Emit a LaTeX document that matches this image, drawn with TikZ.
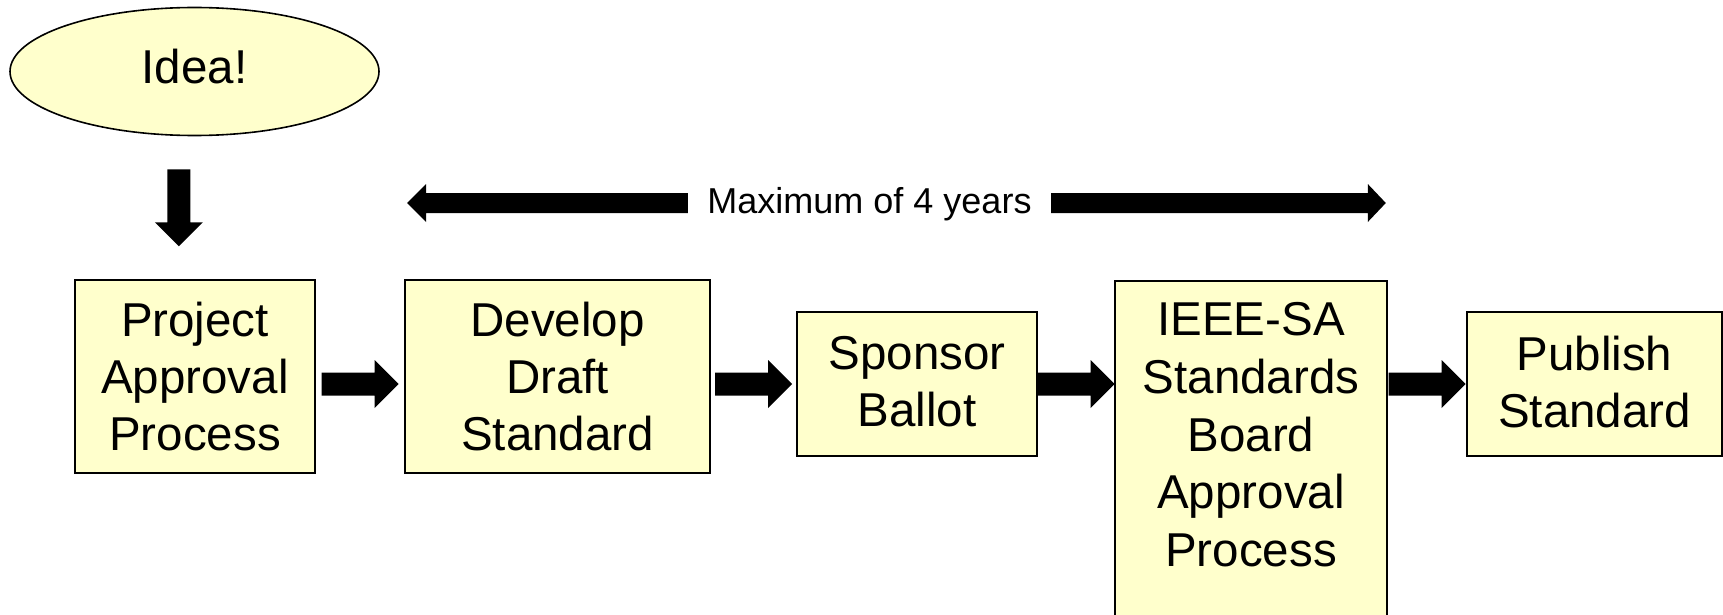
\documentclass[tikz,border=0pt]{standalone}
\usepackage{fontspec}
\setmainfont{Liberation Sans}
\usetikzlibrary{calc,shapes.geometric}
\definecolor{boxfill}{HTML}{FFFFCC}
\begin{document}
\begin{tikzpicture}[x=1pt,y=-1pt,
  box/.style={draw=black, line width=1.6pt, fill=boxfill, align=center, inner sep=0pt,
    font=\fontsize{47.5}{57}\selectfont},
  blockarrow/.pic={\fill[black] (-38.5,-11.5) -- (14.5,-11.5) -- (14.5,-24) -- (38.5,0)
    -- (14.5,24) -- (14.5,11.5) -- (-38.5,11.5) -- cycle;}
]
\useasboundingbox (0,0) rectangle (1723,615);
\node[box, ellipse, minimum width=369pt, minimum height=128pt] (idea) at (194.5,71.5) {Idea!\rule[-11pt]{0pt}{0pt}};
\node[box, minimum width=240pt, minimum height=193pt] (proj) at (195,376.5) {Project\\Approval\\Process};
\node[box, minimum width=305pt, minimum height=193pt] (dev) at (557.5,376.5) {Develop\\Draft\\Standard};
\node[box, minimum width=240pt, minimum height=144pt] (spon) at (917,384) {Sponsor\\Ballot\rule[-5pt]{0pt}{0pt}};
\node[box, minimum width=272pt, anchor=north, inner ysep=22pt, font=\fontsize{47.5}{57.6}\selectfont] (ieee) at (1251,280)
  {IEEE-SA\\Standards\\Board\\Approval\\Process\rule[-90pt]{0pt}{1pt}};
\node[box, minimum width=255pt, minimum height=144pt] (pub) at (1594.5,384) {Publish\\Standard\rule[-5pt]{0pt}{0pt}};
% flow arrows
\coordinate (ay) at (0,384);
\coordinate (m1) at ($(proj.east)!0.5!(dev.west)$);
\coordinate (m2) at ($(dev.east)!0.5!(spon.west)$);
\coordinate (m3) at ($(spon.east)!0.5!(ieee.west)$);
\coordinate (m4) at ($(ieee.east)!0.5!(pub.west)$);
\pic at (m1 |- ay) {blockarrow};
\pic at (m2 |- ay) {blockarrow};
\pic at (m3 |- ay) {blockarrow};
\pic at (m4 |- ay) {blockarrow};
\coordinate (m0) at ($(idea.south)!0.5!(proj.north)$);
\pic[rotate=-90] at ([xshift=-16pt]m0) {blockarrow};
% duration arrow
\node[font=\fontsize{36}{43}\selectfont, minimum width=363pt, inner sep=0pt, anchor=base] (t) at (869.5,213) {Maximum of 4 years};
\coordinate (ty) at (0,203);
\fill let \p1=(t.west |- ty), \p2=(dev.west |- ty) in
  (\x1,\y1-10pt) -- (\x2+22pt,\y1-10pt) -- (\x2+22pt,\y1-19pt) -- (\x2+3pt,\y1)
  -- (\x2+22pt,\y1+19pt) -- (\x2+22pt,\y1+10pt) -- (\x1,\y1+10pt) -- cycle;
\fill let \p1=(t.east |- ty), \p2=(ieee.east |- ty) in
  (\x1,\y1-10pt) -- (\x2-20pt,\y1-10pt) -- (\x2-20pt,\y1-19pt) -- (\x2-2pt,\y1)
  -- (\x2-20pt,\y1+19pt) -- (\x2-20pt,\y1+10pt) -- (\x1,\y1+10pt) -- cycle;
\end{tikzpicture}
\end{document}
